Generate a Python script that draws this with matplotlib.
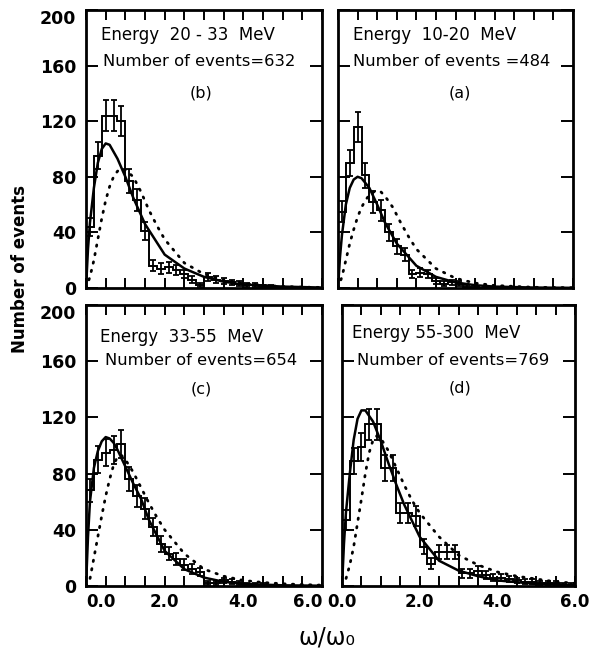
import matplotlib
matplotlib.use('Agg')
import matplotlib.pyplot as plt
import numpy as np

# ---- data ----
bin_edges = np.arange(0, 6.01, 0.2)

# panel (b) 20-33 MeV
b_counts = [44, 95, 124, 124, 120, 77, 63, 41, 16, 14, 15, 13, 10, 6, 2,
            8, 6, 5, 4, 3, 2, 2, 1, 1, 0, 0, 0, 0, 0, 0]
b_fit_x = [0, 0.05, 0.1, 0.2, 0.3, 0.4, 0.5, 0.6, 0.8, 1.0, 1.2, 1.5, 2.0, 2.5, 3.0, 3.5, 4.0, 5.0, 6.0]
b_fit_y = [0, 28, 47, 72, 90, 100, 104, 103, 93, 80, 65, 46, 24, 14, 8, 4.5, 2.5, 1, 0.3]
b_dot_x = [0, 0.1, 0.2, 0.3, 0.4, 0.5, 0.6, 0.7, 0.8, 0.9, 1.0, 1.2, 1.4, 1.6, 1.8, 2.0,
           2.5, 3.0, 3.5, 4.0, 4.5, 5.0, 5.5, 6.0]
b_dot_y = [0, 8, 20, 35, 50, 63, 73, 80, 84, 86, 85, 80, 69, 56, 45, 35,
           18, 10, 5.5, 3.2, 1.8, 1.1, 0.6, 0.4]

# panel (a) 10-20 MeV
a_counts = [55, 90, 116, 81, 62, 56, 40, 30, 24, 10, 11, 10, 5, 3, 4,
            3, 1, 1, 0, 0, 0, 0, 0, 0, 0, 0, 0, 0, 0, 0]
a_fit_x = [0, 0.05, 0.1, 0.2, 0.3, 0.4, 0.5, 0.6, 0.8, 1.0, 1.2, 1.5, 2.0, 2.5, 3.0, 3.5, 4.0, 5.0, 6.0]
a_fit_y = [0, 22, 38, 60, 72, 78, 80, 79, 72, 60, 47, 32, 16, 8, 4, 2, 1, 0.3, 0.1]
a_dot_x = [0, 0.1, 0.2, 0.3, 0.4, 0.5, 0.6, 0.7, 0.8, 0.9, 1.0, 1.1, 1.2, 1.4, 1.6, 1.8,
           2.0, 2.5, 3.0, 3.5, 4.0, 5.0, 6.0]
a_dot_y = [0, 8, 20, 32, 42, 51, 58, 63, 67, 69, 70, 69, 66, 58, 47, 37,
           28, 14, 7, 3.5, 1.8, 0.5, 0.2]

# panel (c) 33-55 MeV
c_counts = [68, 90, 95, 97, 101, 76, 64, 55, 42, 30, 23, 19, 15, 12, 10,
            2, 2, 4, 3, 2, 1, 1, 1, 0, 0, 0, 0, 0, 0, 0]
c_fit_x = [0, 0.05, 0.1, 0.2, 0.3, 0.4, 0.5, 0.6, 0.7, 0.8, 1.0, 1.2, 1.4, 1.6, 2.0, 2.5, 3.0, 3.5, 4.0, 5.0, 6.0]
c_fit_y = [0, 35, 60, 84, 96, 103, 106, 105, 102, 97, 85, 73, 62, 47, 25, 12, 6, 3, 1.5, 0.5, 0.2]
c_dot_x = [0, 0.1, 0.2, 0.3, 0.4, 0.5, 0.6, 0.7, 0.8, 0.9, 1.0, 1.2, 1.4, 1.6, 1.8, 2.0,
           2.5, 3.0, 3.5, 4.0, 4.5, 5.0, 5.5, 6.0]
c_dot_y = [0, 5, 20, 35, 50, 64, 76, 86, 92, 93, 90, 81, 70, 59, 49, 40,
           23, 12, 7, 4, 2.5, 1.6, 1, 0.6]

# panel (d) 55-300 MeV
d_counts = [47, 89, 99, 115, 115, 84, 84, 52, 52, 50, 28, 16, 24, 24, 24,
            9, 9, 11, 8, 6, 6, 5, 4, 3, 3, 2, 2, 2, 1, 1]
d_fit_x = [0, 0.05, 0.1, 0.2, 0.3, 0.4, 0.5, 0.6, 0.8, 1.0, 1.2, 1.4, 1.6, 2.0, 2.5, 3.0, 3.5, 4.0, 5.0, 6.0]
d_fit_y = [0, 30, 52, 80, 104, 119, 125, 125, 117, 103, 87, 72, 58, 35, 18, 11, 7, 4, 1.5, 0.5]
d_dot_x = [0, 0.1, 0.2, 0.3, 0.4, 0.5, 0.6, 0.7, 0.8, 0.9, 1.0, 1.2, 1.4, 1.6, 1.8, 2.0,
           2.5, 3.0, 3.5, 4.0, 4.5, 5.0, 5.5, 6.0]
d_dot_y = [0, 5, 15, 28, 45, 62, 80, 95, 104, 107, 105, 96, 84, 72, 61, 52,
           35, 22, 15, 10, 7, 5, 3, 2]

energies = ['Energy  20 - 33  MeV', 'Energy  10-20  MeV', 'Energy  33-55  MeV', 'Energy 55-300  MeV']
n_events = ['Number of events=632', 'Number of events =484', 'Number of events=654', 'Number of events=769']
tags = ['(b)', '(a)', '(c)', '(d)']

fig = plt.figure(figsize=(5.9, 6.52), dpi=100)
fig.patch.set_facecolor('white')

# axes rectangles (figure fraction)
rects = [[0.1458, 0.5583, 0.400, 0.4264],
         [0.5729, 0.5583, 0.3983, 0.4264],
         [0.1458, 0.1012, 0.400, 0.4310],
         [0.5797, 0.1012, 0.3949, 0.4310]]
# text anchor positions (axes fraction): energy line, events line, tag
text_pos = [((0.064, 0.91), (0.072, 0.813), (0.487, 0.70)),
            ((0.064, 0.91), (0.065, 0.813), (0.520, 0.70)),
            ((0.060, 0.886), (0.080, 0.804), (0.490, 0.70)),
            ((0.043, 0.90), (0.064, 0.804), (0.506, 0.705))]

panels = [(b_counts, b_fit_x, b_fit_y, b_dot_x, b_dot_y),
          (a_counts, a_fit_x, a_fit_y, a_dot_x, a_dot_y),
          (c_counts, c_fit_x, c_fit_y, c_dot_x, c_dot_y),
          (d_counts, d_fit_x, d_fit_y, d_dot_x, d_dot_y)]

for i, (counts, fx, fy, dx, dy) in enumerate(panels):
    ax = fig.add_axes(rects[i])
    counts = np.array(counts, dtype=float)
    centers = 0.5 * (bin_edges[:-1] + bin_edges[1:])

    ax.stairs(counts, bin_edges, color='black', lw=1.4)
    m = counts > 0
    ax.errorbar(centers[m], counts[m], yerr=np.sqrt(counts[m]), fmt='none',
                ecolor='black', elinewidth=1.3, capsize=2.5, capthick=1.3)
    ax.plot(fx, fy, color='black', lw=1.8)
    ax.plot(dx, dy, color='black', lw=2.0, linestyle=(0, (0.5, 2.6)),
            dash_capstyle='round')

    ax.set_xlim(0, 6)
    ax.set_ylim(0, 200)
    for s in ax.spines.values():
        s.set_linewidth(2)

    xt = np.arange(0, 6.01, 0.5)
    ax.set_xticks(xt)
    ax.set_yticks([0, 40, 80, 120, 160, 200])
    ax.tick_params(axis='x', direction='in', top=True, bottom=True, length=7, width=1.4, pad=5)
    ax.tick_params(axis='y', direction='in', left=True, right=True, length=8.5, width=1.4, pad=7)

    if i >= 2:
        ax.set_xticklabels(['%.1f' % v if v % 2 == 0 else '' for v in xt],
                           fontsize=12, fontweight='bold')
        if i == 2:
            lbls = ax.get_xticklabels()
            lbls[0].set_ha('left')
            lbls[-1].set_ha('right')
    else:
        ax.set_xticklabels([])
    if i % 2 == 0:
        ax.set_yticklabels(['0', '40', '80', '120', '160', '200'],
                           fontsize=12.5, fontweight='bold')
        ax.get_yticklabels()[-1].set_va('top')
    else:
        ax.set_yticklabels([])

    (ex, ey), (nx, ny), (tx, ty) = text_pos[i]
    ax.text(ex, ey, energies[i], transform=ax.transAxes, fontsize=12,
            ha='left', va='center')
    ax.text(nx, ny, n_events[i], transform=ax.transAxes, fontsize=11.8,
            ha='left', va='center', bbox=dict(fc='white', ec='none', pad=0.5))
    ax.text(tx, ty, tags[i], transform=ax.transAxes, fontsize=11.5,
            ha='center', va='center')

fig.text(0.034, 0.587, 'Number of events', rotation=90, fontsize=12,
         fontweight='bold', ha='center', va='center')
fig.text(0.554, 0.0215, 'ω/ω₀', fontsize=17, ha='center', va='center')

plt.savefig('out.png', dpi=100, facecolor='white')
plt.close()
